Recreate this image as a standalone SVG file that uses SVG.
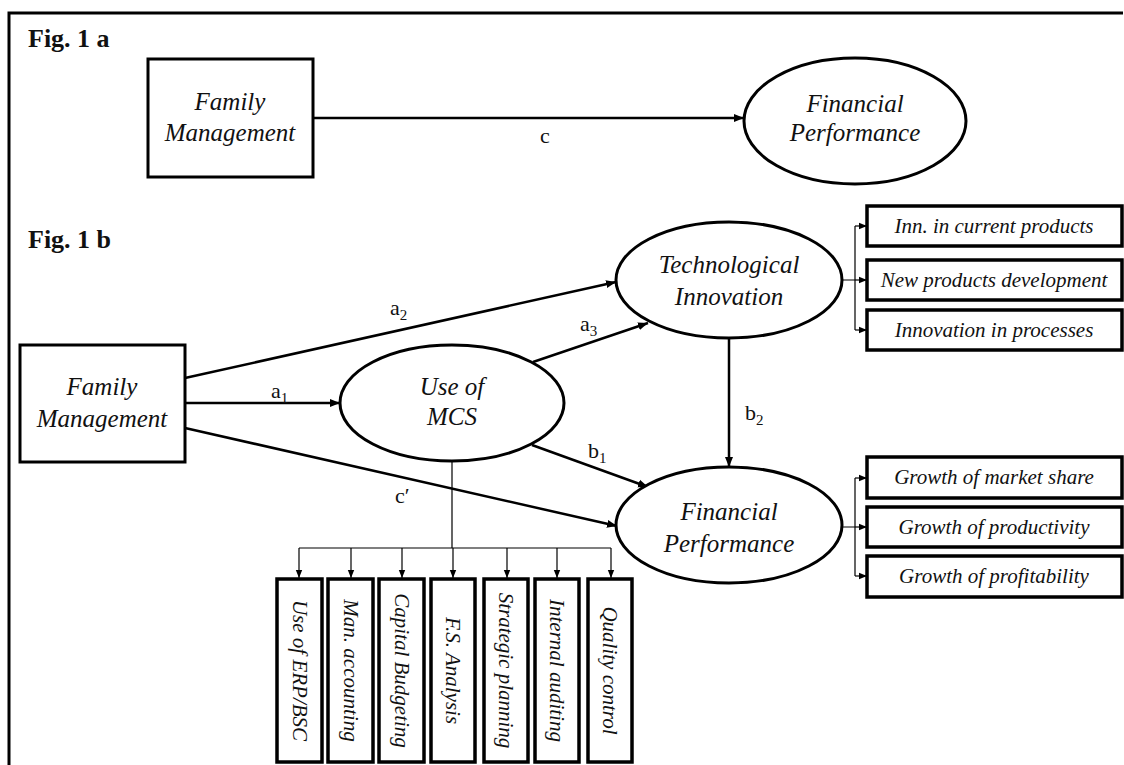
<svg xmlns="http://www.w3.org/2000/svg" width="1124" height="765" viewBox="0 0 1124 765">
<defs>
<marker id="ah" viewBox="0 0 10 10" refX="10" refY="5" markerWidth="10" markerHeight="10" markerUnits="userSpaceOnUse" orient="auto"><path d="M0,1 L10,5 L0,9 z" fill="#000"/></marker>
<marker id="ahs" viewBox="0 0 10 10" refX="10" refY="5" markerWidth="8" markerHeight="8" markerUnits="userSpaceOnUse" orient="auto"><path d="M0,1 L10,5 L0,9 z" fill="#000"/></marker>
<style>
.fig{font-family:"Liberation Serif",serif;font-weight:bold;font-size:26px;fill:#111}
.node{fill:#fff;stroke:#000;stroke-width:3}
.sub{fill:#fff;stroke:#000;stroke-width:3.5}
.t{font-family:"Liberation Serif",serif;font-style:italic;font-size:25px;fill:#111;text-anchor:middle}
.ts{font-family:"Liberation Serif",serif;font-style:italic;font-size:21px;fill:#111;text-anchor:middle}
.tv{font-family:"Liberation Serif",serif;font-style:italic;font-size:21px;fill:#111;text-anchor:middle}
.lab{font-family:"Liberation Serif",serif;font-size:22px;fill:#111}
.lab tspan.s{font-size:15px}
.c{fill:none;stroke:#000;stroke-width:2.5}
.thin{fill:none;stroke:#000;stroke-width:1.2}
</style>
</defs>
<rect width="1124" height="765" fill="#fff"/>
<path d="M9,765 V13 H1123" fill="none" stroke="#000" stroke-width="3"/>
<text class="fig" x="28" y="47">Fig. 1 a</text>
<text class="fig" x="28" y="248">Fig. 1 b</text>

<g id="connectors">
<line class="c" x1="313" y1="118" x2="744" y2="118" marker-end="url(#ah)"/>
<line class="c" x1="185" y1="378" x2="616" y2="282" marker-end="url(#ah)"/>
<line class="c" x1="185" y1="403" x2="340" y2="403" marker-end="url(#ah)"/>
<line class="c" x1="185" y1="428" x2="617" y2="526" marker-end="url(#ah)"/>
<line class="c" x1="533" y1="362" x2="648" y2="323" marker-end="url(#ah)"/>
<line class="c" x1="532" y1="445" x2="648" y2="487" marker-end="url(#ah)"/>
<line class="c" x1="729" y1="339" x2="729" y2="467" marker-end="url(#ah)"/>
<path class="thin" d="M452,461 V548 M299,548 H611"/>
<line class="thin" x1="299" y1="548" x2="299" y2="578" marker-end="url(#ahs)"/>
<line class="thin" x1="351" y1="548" x2="351" y2="578" marker-end="url(#ahs)"/>
<line class="thin" x1="402" y1="548" x2="402" y2="578" marker-end="url(#ahs)"/>
<line class="thin" x1="453" y1="548" x2="453" y2="578" marker-end="url(#ahs)"/>
<line class="thin" x1="507" y1="548" x2="507" y2="578" marker-end="url(#ahs)"/>
<line class="thin" x1="557" y1="548" x2="557" y2="578" marker-end="url(#ahs)"/>
<line class="thin" x1="611" y1="548" x2="611" y2="578" marker-end="url(#ahs)"/>
<path class="thin" d="M842,280 H855 M855,226 V330"/>
<line class="thin" x1="855" y1="226" x2="867" y2="226" marker-end="url(#ahs)"/>
<line class="thin" x1="855" y1="280" x2="867" y2="280" marker-end="url(#ahs)"/>
<line class="thin" x1="855" y1="330" x2="867" y2="330" marker-end="url(#ahs)"/>
<path class="thin" d="M842,527 H855 M855,478 V576"/>
<line class="thin" x1="855" y1="478" x2="867" y2="478" marker-end="url(#ahs)"/>
<line class="thin" x1="855" y1="527" x2="867" y2="527" marker-end="url(#ahs)"/>
<line class="thin" x1="855" y1="576" x2="867" y2="576" marker-end="url(#ahs)"/>
<text class="lab" x="540" y="143">c</text>
<text class="lab" x="390" y="315">a<tspan class="s" dy="5">2</tspan></text>
<text class="lab" x="271" y="398">a<tspan class="s" dy="5">1</tspan></text>
<text class="lab" x="580" y="331">a<tspan class="s" dy="5">3</tspan></text>
<text class="lab" x="588" y="458">b<tspan class="s" dy="5">1</tspan></text>
<text class="lab" x="745" y="420">b<tspan class="s" dy="5">2</tspan></text>
<text class="lab" x="395" y="503">c′</text>
</g>

<g id="fm1a">
<rect class="node" x="148" y="59" width="165" height="118"/>
<text class="t" x="230" y="110">Family</text>
<text class="t" x="230" y="141">Management</text>
</g>
<g id="fp1a">
<ellipse class="node" cx="855" cy="121" rx="111" ry="63"/>
<text class="t" x="855" y="112">Financial</text>
<text class="t" x="855" y="141">Performance</text>
</g>

<g id="fm1b">
<rect class="node" x="20" y="345" width="165" height="117"/>
<text class="t" x="102" y="395">Family</text>
<text class="t" x="102" y="427">Management</text>
</g>
<g id="mcs">
<ellipse class="node" cx="452" cy="403" rx="112" ry="58"/>
<text class="t" x="452" y="395">Use of</text>
<text class="t" x="452" y="425">MCS</text>
</g>
<g id="ti">
<ellipse class="node" cx="729" cy="280" rx="113" ry="58"/>
<text class="t" x="729" y="273">Technological</text>
<text class="t" x="729" y="305">Innovation</text>
</g>
<g id="fp1b">
<ellipse class="node" cx="729" cy="525" rx="113" ry="58"/>
<text class="t" x="729" y="520">Financial</text>
<text class="t" x="729" y="552">Performance</text>
</g>

<g id="ti1"><rect class="sub" x="867" y="206" width="255" height="40"/><text class="ts" x="994" y="233">Inn. in current products</text></g>
<g id="ti2"><rect class="sub" x="867" y="260" width="255" height="40"/><text class="ts" x="994" y="287">New products development</text></g>
<g id="ti3"><rect class="sub" x="867" y="310" width="255" height="40"/><text class="ts" x="994" y="337">Innovation in processes</text></g>

<g id="fp1"><rect class="sub" x="867" y="457" width="255" height="41"/><text class="ts" x="994" y="484">Growth of market share</text></g>
<g id="fp2"><rect class="sub" x="867" y="507" width="255" height="40"/><text class="ts" x="994" y="534">Growth of productivity</text></g>
<g id="fp3"><rect class="sub" x="867" y="556" width="255" height="41"/><text class="ts" x="994" y="583">Growth of profitability</text></g>

<g id="m1"><rect class="sub" x="277" y="579" width="45" height="183"/><text class="tv" transform="translate(299.5,670.5) rotate(90)" y="7">Use of ERP/BSC</text></g>
<g id="m2"><rect class="sub" x="328" y="579" width="45" height="183"/><text class="tv" transform="translate(350.5,670.5) rotate(90)" y="7">Man. accounting</text></g>
<g id="m3"><rect class="sub" x="379" y="579" width="45" height="183"/><text class="tv" transform="translate(401.5,670.5) rotate(90)" y="7">Capital Budgeting</text></g>
<g id="m4"><rect class="sub" x="431" y="579" width="44" height="183"/><text class="tv" transform="translate(453,670.5) rotate(90)" y="7">F.S. Analysis</text></g>
<g id="m5"><rect class="sub" x="484" y="579" width="44" height="183"/><text class="tv" transform="translate(506,670.5) rotate(90)" y="7">Strategic planning</text></g>
<g id="m6"><rect class="sub" x="535" y="579" width="44" height="183"/><text class="tv" transform="translate(557,670.5) rotate(90)" y="7">Internal auditing</text></g>
<g id="m7"><rect class="sub" x="588" y="579" width="44" height="183"/><text class="tv" transform="translate(610,670.5) rotate(90)" y="7">Quality control</text></g>
</svg>
